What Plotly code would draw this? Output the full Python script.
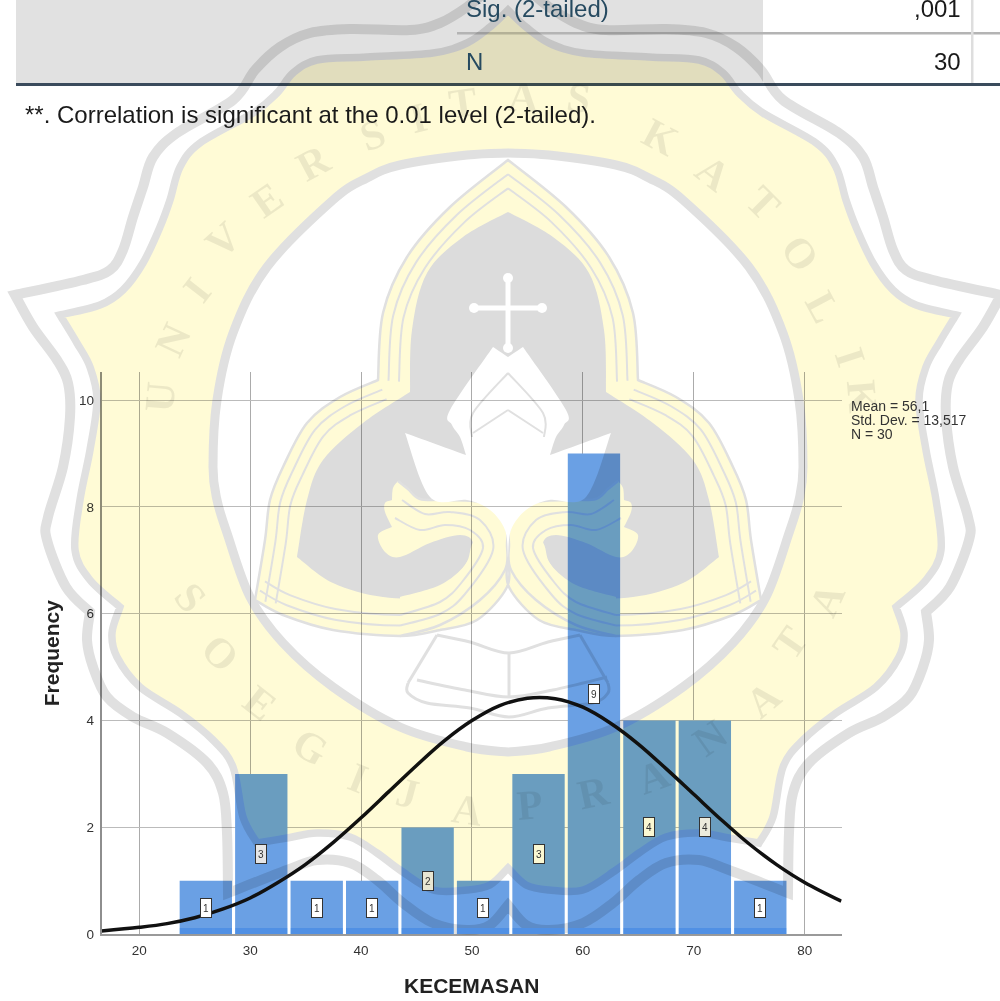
import plotly.graph_objects as go

# ---------- chart data ----------
bin_centers = [26, 31, 36, 41, 46, 51, 56, 61, 66, 71, 76]
frequencies = [1, 3, 1, 1, 2, 1, 3, 9, 4, 4, 1]
label_fill = ['#FFFFFF', '#E6E6E6', '#FFFFFF', '#FFFFFF', '#E8E6D2', '#FFFFFF',
              '#FBF8D2', '#FFFFFF', '#FBF8D2', '#ECEBDC', '#FFFFFF']
curve_x = [16.6, 20, 22.5, 25, 27.5, 30, 32.5, 35, 37.5, 40, 42.5, 45, 47.5, 50,
           52.5, 55, 57.5, 60, 62.5, 65, 67.5, 70, 72.5, 75, 77.5, 80, 83.3]
curve_y = [.06, .13, .2, .31, .47, .68, .97, 1.31, 1.72, 2.18, 2.67, 3.16, 3.62, 4.0,
           4.28, 4.42, 4.41, 4.25, 3.95, 3.56, 3.1, 2.62, 2.14, 1.69, 1.3, .97, .62]
x_ticks = [20, 30, 40, 50, 60, 70, 80]
y_ticks = [0, 2, 4, 6, 8, 10]
stats_lines = ['Mean = 56,1', 'Std. Dev. = 13,517', 'N = 30']
x_title = 'KECEMASAN'
y_title = 'Frequency'
table_rows = [('Sig. (2-tailed)', ',001'), ('N', '30')]
footnote = '**. Correlation is significant at the 0.01 level (2-tailed).'

FONT = 'Liberation Sans'
W, H = 1000, 1001
PX = lambda v: v / W
PY = lambda v: 1 - v / H
GREY = '#E0E0E0'
YEL = '#FFFBD6'
AX = 508


def catmull(pts):
    out = []
    n = len(pts)
    for i in range(n - 1):
        p0 = pts[max(i - 1, 0)]
        p1 = pts[i]
        p2 = pts[i + 1]
        p3 = pts[min(i + 2, n - 1)]
        c1 = (p1[0] + (p2[0] - p0[0]) / 6, p1[1] + (p2[1] - p0[1]) / 6)
        c2 = (p2[0] - (p3[0] - p1[0]) / 6, p2[1] - (p3[1] - p1[1]) / 6)
        out.append('C%.5f,%.5f %.5f,%.5f %.5f,%.5f' % (PX(c1[0]), PY(c1[1]), PX(c2[0]), PY(c2[1]), PX(p2[0]), PY(p2[1])))
    return ' '.join(out)


def path(segs, closed=False):
    s = 'M%.5f,%.5f ' % (PX(segs[0][0][0]), PY(segs[0][0][1]))
    s += ' '.join(catmull(g) for g in segs)
    return s + (' Z' if closed else '')


def mirror(segs):
    return [[(2 * AX - x, y) for x, y in reversed(g)] for g in reversed(segs)]


def sym(segs):
    return segs + mirror(segs)


def offset(pts, d):
    res = []
    for i, p in enumerate(pts):
        a = pts[max(i - 1, 0)]
        b = pts[min(i + 1, len(pts) - 1)]
        dx, dy = b[0] - a[0], b[1] - a[1]
        L = (dx * dx + dy * dy) ** .5
        res.append((p[0] + d * dy / L, p[1] - d * dx / L))
    return res


shapes = []


def add(segs, fill=None, line=None, width=0, closed=True):
    shapes.append(dict(type='path', xref='paper', yref='paper', layer='above', path=path(segs, closed),
                       fillcolor=fill if fill else 'rgba(0,0,0,0)',
                       line=dict(color=line if line else 'rgba(0,0,0,0)', width=width)))


# table (below everything)
def rect(x0, y0, x1, y1, color):
    shapes.append(dict(type='rect', xref='paper', yref='paper', layer='below', x0=PX(x0), x1=PX(x1),
                       y0=PY(y1), y1=PY(y0), fillcolor=color, line=dict(width=0)))


rect(16, -2, 763, 83, '#E1E1E1')
rect(457, 32, 1000, 34.5, '#B4B4B4')
rect(971, -2, 973.5, 83, '#DEDEDE')
rect(16, 83, 1000, 86, '#3A4B5C')

# ---------- seal behind the page ----------
outer = [[(508, -25), (490, -12), (467, 7), (440, 23), (410, 30), (350, 29), (310, 33), (280, 47), (255, 70),
          (233, 100), (177, 133), (153, 157), (143, 187), (133, 217), (123, 250), (110, 270), (83, 280), (15, 295)],
         [(15, 295), (33, 327), (57, 360), (68, 383), (70, 417), (63, 467), (48, 517), (47, 540), (66, 587), (90, 612)],
         [(90, 612), (87, 640), (93, 667), (107, 697), (133, 717), (167, 733), (207, 763), (223, 793), (227, 833), (228, 893)],
         [(228, 893), (287, 870), (317, 860), (350, 863), (377, 880), (403, 903), (433, 923), (467, 930), (490, 925), (508, 905)]]
inner = [[(508, 10), (490, 27), (467, 43), (433, 53), (367, 57), (317, 60), (293, 73), (277, 93), (253, 113), (200, 143),
          (180, 167), (170, 200), (160, 227), (143, 263), (123, 290), (100, 305), (60, 315)],
         [(60, 315), (77, 343), (90, 367), (97, 400), (90, 450), (80, 500), (75, 550), (90, 580), (120, 607)],
         [(120, 607), (112, 633), (117, 657), (140, 687), (180, 713), (213, 740), (233, 767), (243, 817), (257, 843)],
         [(257, 843), (287, 838), (317, 833), (350, 837), (377, 853), (400, 870), (433, 890), (467, 890), (490, 885), (508, 868)]]
circle = [[(508, 153), (467, 155), (400, 165), (367, 178), (333, 200), (267, 267), (233, 333), (217, 400), (213, 467),
           (217, 500), (227, 533), (250, 597), (283, 643), (333, 687), (400, 727), (467, 747), (508, 752)]]
A1 = [(508, 160), (450, 207), (407, 257), (383, 313), (378, 380)]
A2 = [(378, 380), (340, 397), (307, 423), (283, 467), (270, 500), (265, 540), (255, 600)]
A3 = [(255, 600), (283, 615), (333, 630), (400, 636), (440, 630)]
A4 = [(440, 630), (477, 620), (507, 587), (508, 557)]
grey_core = [[(508, 212), (463, 237), (427, 273), (412, 330), (410, 392)],
             [(410, 392), (363, 423), (323, 460), (307, 500), (297, 557)],
             [(297, 557), (333, 583), (383, 597), (433, 595), (465, 565), (475, 540), (508, 520)]]
wave_edge = [(398, 481), (408, 489), (420, 499), (445, 500), (483, 503), (505, 525), (507, 545), (505, 570), (480, 600), (440, 625), (400, 636)]
wave = [wave_edge,
        [(400, 636), (400, 597)],
        [(400, 597), (440, 585), (465, 565), (473, 543), (460, 535), (430, 543), (400, 557), (385, 552), (378, 535), (392, 527)],
        [(392, 527), (385, 512), (385, 503), (392, 500)],
        [(392, 500), (393, 488), (398, 481)]]
wave_line1 = [(400, 625.5), (440, 614), (465, 594), (493, 550), (480, 520), (450, 512), (425, 514), (402, 500)]
wave_line2 = [(400, 615), (440, 602), (462, 582), (483, 548), (470, 530), (445, 525), (420, 530), (395, 518)]
lotus = [[(508, 357), (493, 347)], [(493, 347), (450, 410), (452, 425), (460, 437), (466, 455)], [(466, 455), (405, 433)],
         [(405, 433), (430, 497), (467, 500), (490, 510), (505, 530), (508, 558)]]
chevrons = [[(472, 437), (473, 413), (508, 373)], [(473, 433), (508, 410)]]
book = [[(437, 635), (470, 642), (509, 653), (548, 642), (580, 635)], [(509, 653), (509, 697)],
        [(437, 635), (408, 683)], [(580, 635), (608, 683)],
        [(417, 680), (465, 690), (509, 697), (553, 690), (607, 677)],
        [(408, 683), (408, 693), (427, 703), (470, 708), (509, 717), (548, 708), (593, 703), (608, 693), (608, 683)]]

add(outer + mirror(outer), line=GREY, width=10)
add(inner + mirror(inner), fill=YEL, line=GREY, width=7.5)
add(sym(circle), fill='#FFFFFF', line=GREY, width=9)
add(sym([A1, A2, A3, A4]), fill=YEL, line=GREY, width=2.5)
for d in (10.5, 21):
    for g in (A1, A2, A3):
        o = offset(g, d)
        if g is A1:
            o[0] = (AX, g[0][1] + 1.35 * d)
        add([o], line=GREY, width=2, closed=False)
        add(mirror([o]), line=GREY, width=2, closed=False)
add(sym(grey_core), fill='#DCDCDC')
add(wave, fill=YEL)
add(mirror(wave), fill=YEL)
add([wave_edge], line=GREY, width=2.5, closed=False)
add(mirror([wave_edge]), line=GREY, width=2.5, closed=False)
for ln in (wave_line1, wave_line2):
    add([ln], line=GREY, width=2, closed=False)
    add(mirror([ln]), line=GREY, width=2, closed=False)
add(sym(lotus), fill='#FFFFFF')
for c in chevrons:
    add([c], line=GREY, width=2, closed=False)
    add(mirror([c]), line=GREY, width=2, closed=False)
for b in book:
    add([b], line=GREY, width=3, closed=False)
# cross
add([[(508, 280), (508, 350)]], line='#FFFFFF', width=5, closed=False)
add([[(476, 308), (541, 308)]], line='#FFFFFF', width=5, closed=False)
for cx, cy in ((508, 278), (474, 308), (542, 308), (508, 348)):
    shapes.append(dict(type='circle', xref='paper', yref='paper', layer='above', x0=PX(cx - 5), x1=PX(cx + 5),
                       y0=PY(cy + 5), y1=PY(cy - 5), fillcolor='#FFFFFF', line=dict(width=0)))

# darker foot of each bar
BAR_W = 4.72
for c in bin_centers:
    shapes.append(dict(type='rect', xref='x', yref='y', layer='above', x0=c - BAR_W / 2, x1=c + BAR_W / 2,
                       y0=0, y1=.12, fillcolor='#BFE6FF', line=dict(width=0)))

# ---------- text ----------
annotations = []
seal_letters = [('U', 160, 397, -85), ('N', 173, 340, -65), ('I', 197, 290, -52), ('V', 223, 240, -42), ('E', 267, 200, -35),
                ('R', 313, 163, -28), ('S', 372, 135, -20), ('I', 418, 118, -14), ('T', 463, 103, -8), ('A', 523, 97, 2),
                ('S', 578, 98, 8), ('K', 660, 137, 28), ('A', 713, 173, 38), ('T', 763, 203, 45), ('O', 800, 253, 55),
                ('L', 823, 307, 62), ('I', 850, 357, 72), ('K', 862, 396, 85),
                ('S', 190, 597, 50), ('O', 220, 653, 45), ('E', 260, 703, 38), ('G', 310, 747, 30), ('I', 358, 778, 22),
                ('J', 407, 793, 15), ('A', 467, 810, 8), ('P', 530, 805, -5), ('R', 593, 793, -12), ('A', 653, 777, -20),
                ('N', 710, 738, -35), ('A', 763, 700, -40), ('T', 790, 643, -55), ('A', 827, 600, -65)]
for t, x, y, a in seal_letters:
    annotations.append(dict(text='<b>%s</b>' % t, xref='paper', yref='paper', x=PX(x), y=PY(y), showarrow=False, textangle=a,
                            font=dict(family='Liberation Serif', size=42, color='rgba(0,0,0,0.075)'),
                            xanchor='center', yanchor='middle'))


def txt(s, x, y, size, color='#1A1A1A', anchor='left', **kw):
    annotations.append(dict(text=s, xref='paper', yref='paper', x=PX(x), y=PY(y), showarrow=False,
                            font=dict(family=FONT, size=size, color=color), xanchor=anchor, yanchor='middle', **kw))


for (name, val), yy in zip(table_rows, (8.5, 61)):
    txt(name, 464, yy, 24, '#264A60')
    txt(val, 963, yy, 24, '#1A1A1A', 'right')
txt(footnote, 23, 114, 24)
for s, yy in zip(stats_lines, (406, 420, 434)):
    txt(s, 849, yy, 14, '#333333')

for c, f, bg in zip(bin_centers, frequencies, label_fill):
    annotations.append(dict(text=str(f), x=c, y=f / 2, xref='x', yref='y', showarrow=False, width=10, height=18,
                            bgcolor=bg, bordercolor='#333333', borderwidth=1, borderpad=0,
                            font=dict(family=FONT, size=10, color='#333333')))

fig = go.Figure()
fig.add_bar(x=bin_centers, y=frequencies, width=BAR_W, marker=dict(color='#6AA0E4', line=dict(width=0)))
fig.add_scatter(x=curve_x, y=curve_y, mode='lines', line=dict(color='#111111', width=3.5, shape='spline'))

fig.update_layout(
    width=W, height=H, margin=dict(l=0, r=0, t=0, b=0, autoexpand=False), showlegend=False,
    paper_bgcolor='white', plot_bgcolor='white', shapes=shapes, annotations=annotations,
    xaxis=dict(domain=[PX(101.7), PX(841.7)], range=[16.61, 83.34], tickvals=x_ticks, showgrid=True, automargin=False,
               gridcolor='#ABABAB', gridwidth=1, zeroline=False, showline=True, linecolor='#9A9A9A', linewidth=2,
               ticks='outside', ticklen=2, tickcolor='rgba(0,0,0,0)', tickfont=dict(family=FONT, size=13.5, color='#333333'),
               title=dict(text='<b>%s</b>' % x_title, standoff=22, font=dict(family=FONT, size=21, color='#222222'))),
    yaxis=dict(domain=[PY(934.3), PY(372)], range=[0, 10.524], tickvals=y_ticks, showgrid=True, automargin=False,
               gridcolor='#BBBBBB', gridwidth=1, zeroline=False, showline=True, linecolor='#8E8E8E', linewidth=2,
               ticks='outside', ticklen=3, tickcolor='rgba(0,0,0,0)', tickfont=dict(family=FONT, size=13.5, color='#333333'),
               title=dict(text='<b>%s</b>' % y_title, standoff=14, font=dict(family=FONT, size=21, color='#222222'))),
)

post = """
document.body.style.margin='0';
document.querySelectorAll('.layer-above .shapelayer').forEach(function(e){e.style.mixBlendMode='multiply';});
"""
fig.write_html('out.html', post_script=post, config={'displayModeBar': False})
